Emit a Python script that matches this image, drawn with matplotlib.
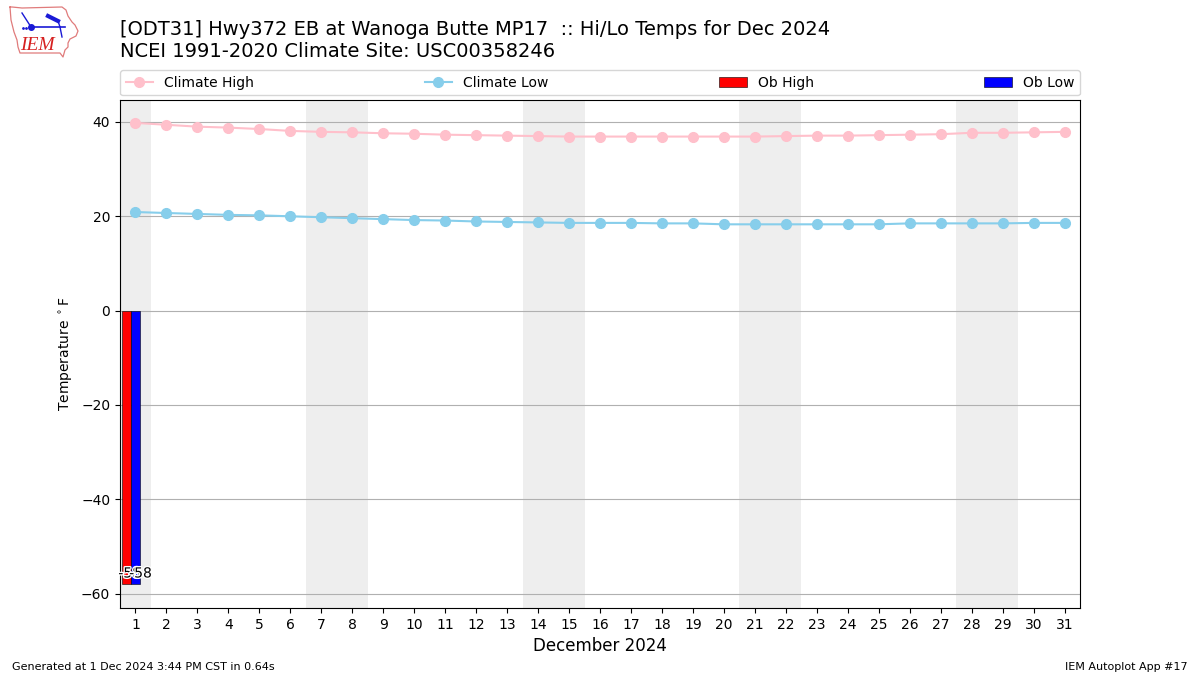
import datetime

import numpy as np
from matplotlib import pyplot as plt
import matplotlib.patheffects as PathEffects

days = list(range(1, 32))
climate_high = [39.8, 39.4, 39.0, 38.8, 38.5, 38.1, 37.9, 37.8, 37.6, 37.5, 37.3, 37.2, 37.1, 37.0, 36.9, 36.9,
                36.9, 36.9, 36.9, 36.9, 36.9, 37.0, 37.1, 37.1, 37.2, 37.3, 37.4, 37.7, 37.7, 37.8, 37.9]
climate_low = [20.9, 20.7, 20.5, 20.3, 20.2, 20.0, 19.8, 19.6, 19.4, 19.2, 19.1, 18.9, 18.8, 18.7, 18.6, 18.6,
               18.6, 18.5, 18.5, 18.3, 18.3, 18.3, 18.3, 18.3, 18.3, 18.5, 18.5, 18.5, 18.5, 18.6, 18.6]
ob_days = [1]
ob_high = [-58]
ob_low = [-58]

fig = plt.figure(figsize=(12, 6.75), dpi=100)
ax = fig.add_axes([0.1, 0.0993, 0.8, 0.7526])

# weekends
for day in days:
    if datetime.date(2024, 12, day).weekday() >= 5:
        ax.axvspan(day - 0.5, day + 0.5, color="#EEEEEE", lw=0, zorder=0)

ax.grid(axis="y", color="#b0b0b0", lw=0.8, zorder=1)
ax.set_axisbelow(True)

ax.plot(days, climate_high, color="pink", marker="o", ms=7, lw=1.5, label="Climate High", zorder=3)
ax.plot(days, climate_low, color="skyblue", marker="o", ms=7, lw=1.5, label="Climate Low", zorder=3)

bar_x = np.array(ob_days) - 0.14
ax.bar(bar_x - 0.145, ob_high, width=0.29, color="red", edgecolor="k", lw=0.4, label="Ob High", zorder=3)
ax.bar(bar_x + 0.145, ob_low, width=0.29, color="blue", edgecolor="k", lw=0.4, label="Ob Low", zorder=3)

for x, hi, lo in zip(ob_days, ob_high, ob_low):
    for offset, val in [(-0.19, hi), (0.16, lo)]:
        t = ax.text(x + offset, val + 0.8, f"{val}", ha="center", va="bottom", fontsize=10, color="k", zorder=5)
        t.set_path_effects([PathEffects.withStroke(linewidth=2, foreground="white")])

ax.set_xlim(0.5, 31.5)
ax.set_ylim(-63.03, 44.66)
ax.set_xticks(days)
ax.set_yticks([-60, -40, -20, 0, 20, 40])
ax.set_xlabel("December 2024", fontsize=12)
ax.set_ylabel(r"Temperature $^\circ$F")

ax.legend(loc="lower left", bbox_to_anchor=(0, 1.009, 1, 0.05), ncol=4, mode="expand",
          borderaxespad=0, fontsize=10)

fig.text(0.1, 0.9415, "[ODT31] Hwy372 EB at Wanoga Butte MP17  :: Hi/Lo Temps for Dec 2024", fontsize=14, va="bottom")
fig.text(0.1, 0.9100, "NCEI 1991-2020 Climate Site: USC00358246", fontsize=14, va="bottom")
fig.text(0.01, 0.005, "Generated at 1 Dec 2024 3:44 PM CST in 0.64s", fontsize=8, va="bottom")
fig.text(0.99, 0.005, "IEM Autoplot App #17", fontsize=8, va="bottom", ha="right")

# logo drawn in pixel coordinates of the corner
logo = fig.add_axes([0, 0.91, 0.07, 0.09])
logo.set_xlim(0, 84)
logo.set_ylim(60.75, 0)
logo.axis("off")
outline_x = [10, 12, 22, 62, 66, 68, 72, 75, 78, 76, 70, 68, 68, 65, 63, 60, 20, 18, 17, 14, 11, 10]
outline_y = [7, 7, 8, 7, 10, 16, 22, 25, 31, 36, 39, 43, 47, 50, 57, 53, 53, 47, 40, 32, 20, 7]
logo.plot(outline_x, outline_y, color="#e07b7b", lw=0.9)
logo.plot([31, 65], [27, 27], color="#1a1ad6", lw=1.2)
logo.plot([31], [27], "o", color="#1a1ad6", ms=4)
logo.plot([22, 31], [13, 27], color="#1a1ad6", lw=1)
logo.plot([48, 58], [16, 21], color="#1a1ad6", lw=3)
logo.plot([58, 60], [21, 27], color="#1a1ad6", lw=1)
logo.plot([60, 62], [27, 37], color="#1a1ad6", lw=1)
logo.plot([23, 26], [28, 28], ".", color="#1a1ad6", ms=2)
logo.text(37, 46, "IEM", color="#d62020", fontsize=14, family="Liberation Serif", style="italic",
          ha="center", va="center")

fig.savefig("out.png", dpi=100)
